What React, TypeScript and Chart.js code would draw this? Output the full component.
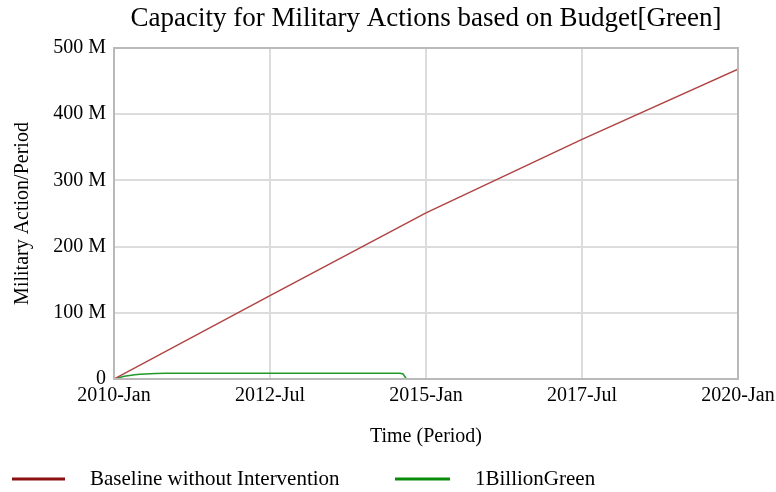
import React, { useEffect, useRef } from "react";
import { Chart, registerables } from "chart.js";

Chart.register(...registerables);

const TITLE = "Capacity for Military Actions based on Budget[Green]";
const X_TITLE = "Time (Period)";
const Y_TITLE = "Military Action/Period";

// months since 2010-Jan
const X_TICK_LABELS = ["2010-Jan", "2012-Jul", "2015-Jan", "2017-Jul", "2020-Jan"];

const baselineMonths = [0, 30, 60, 90, 120];
const baselineValues = [0, 126, 251, 362, 468]; // millions

const greenMonths = [0, 1, 2, 3, 4, 5, 6, 8, 10, 14, 20, 30, 40, 50, 55, 55.6, 56.2, 57, 120];
const greenValues = [0, 2.2, 4.0, 5.4, 6.4, 7.1, 7.6, 8.2, 8.5, 8.8, 8.8, 8.8, 8.7, 8.6, 8.5, 7.6, 0.4, 0, 0];

const SERIES_LABELS = ["Baseline without Intervention", "1BillionGreen"];
const LINE_COLORS = ["#b04444", "#22992a"];
const LEGEND_COLORS = ["#8b1111", "#0a8a0a"];

const FONT = '"Liberation Serif", "Times New Roman", serif';
const FS = 20;

export default function App() {
  const ref = useRef<HTMLCanvasElement | null>(null);

  useEffect(() => {
    document.body.style.margin = "0";
    const canvas = ref.current!;
    const toPts = (xs: number[], ys: number[]) => xs.map((x, i) => ({ x, y: ys[i] }));

    const framePlugin = {
      id: "frameAndLegend",
      afterDatasetsDraw(chart: any) {
        const { ctx, chartArea } = chart;
        ctx.save();
        ctx.strokeStyle = "#b9b9b9";
        ctx.lineWidth = 2;
        ctx.strokeRect(chartArea.left, chartArea.top, chartArea.right - chartArea.left, chartArea.bottom - chartArea.top);
        ctx.restore();
      },
      afterDraw(chart: any) {
        const { ctx, chartArea } = chart;
        ctx.save();
        // title
        ctx.fillStyle = "#000";
        ctx.font = `27px ${FONT}`;
        ctx.textAlign = "center";
        ctx.textBaseline = "middle";
        ctx.fillText(TITLE, (chartArea.left + chartArea.right) / 2, 19);
        // legend
        const y = 479;
        const items = [
          { x0: 12, x1: 65, tx: 90 },
          { x0: 395, x1: 450, tx: 475 },
        ];
        ctx.font = `21px ${FONT}`;
        ctx.textAlign = "left";
        items.forEach((it, i) => {
          ctx.strokeStyle = LEGEND_COLORS[i];
          ctx.lineWidth = 3;
          ctx.beginPath();
          ctx.moveTo(it.x0, y);
          ctx.lineTo(it.x1, y);
          ctx.stroke();
          ctx.fillStyle = "#000";
          ctx.fillText(chart.data.datasets[i].label, it.tx, y);
        });
        ctx.restore();
      },
    };

    const chart = new Chart(canvas, {
      type: "line",
      data: {
        datasets: [
          {
            label: SERIES_LABELS[0],
            data: toPts(baselineMonths, baselineValues),
            borderColor: LINE_COLORS[0],
            borderWidth: 1.5,
            pointRadius: 0,
            tension: 0,
          },
          {
            label: SERIES_LABELS[1],
            data: toPts(greenMonths, greenValues),
            borderColor: LINE_COLORS[1],
            borderWidth: 1.5,
            pointRadius: 0,
            tension: 0,
          },
        ],
      },
      options: {
        animation: false,
        responsive: false,
        maintainAspectRatio: false,
        layout: { padding: { top: 48, right: 38, bottom: 43, left: 0 } },
        plugins: { legend: { display: false }, title: { display: false }, tooltip: { enabled: false } },
        scales: {
          x: {
            type: "linear",
            min: 0,
            max: 120,
            afterFit: (s: any) => {
              s.height = 70;
              s.paddingRight = 0;
              s.paddingLeft = 0;
            },
            afterBuildTicks: (s: any) => {
              s.ticks = [0, 30, 60, 90, 120].map((v) => ({ value: v }));
            },
            ticks: {
              padding: 5,
              maxRotation: 0,
              autoSkip: false,
              color: "#000",
              font: { family: FONT, size: FS },
              callback: (v: any) => X_TICK_LABELS[Math.round(Number(v) / 30)] ?? "",
            },
            grid: { color: "#dcdcdc", lineWidth: 2, drawTicks: false },
            border: { display: false },
            title: {
              display: true,
              text: X_TITLE,
              color: "#000",
              font: { family: FONT, size: FS },
              padding: { top: 0, bottom: 0 },
            },
          },
          y: {
            min: 0,
            max: 500,
            afterFit: (s: any) => { s.width = 114; },
            ticks: {
              stepSize: 100,
              padding: 8,
              color: "#000",
              font: { family: FONT, size: FS },
              callback: (v: any) => (Number(v) === 0 ? "0" : `${v} M`),
            },
            grid: { color: "#dcdcdc", lineWidth: 2, drawTicks: false },
            border: { display: false },
            title: {
              display: true,
              text: Y_TITLE,
              color: "#000",
              font: { family: FONT, size: FS },
              padding: { top: 11, bottom: 0 },
            },
          },
        },
      },
      plugins: [framePlugin],
    });
    return () => chart.destroy();
  }, []);

  return (
    <div style={{ width: 776, height: 492 }}>
      <canvas ref={ref} width={776} height={492} style={{ display: "block", width: 776, height: 492 }} />
    </div>
  );
}
